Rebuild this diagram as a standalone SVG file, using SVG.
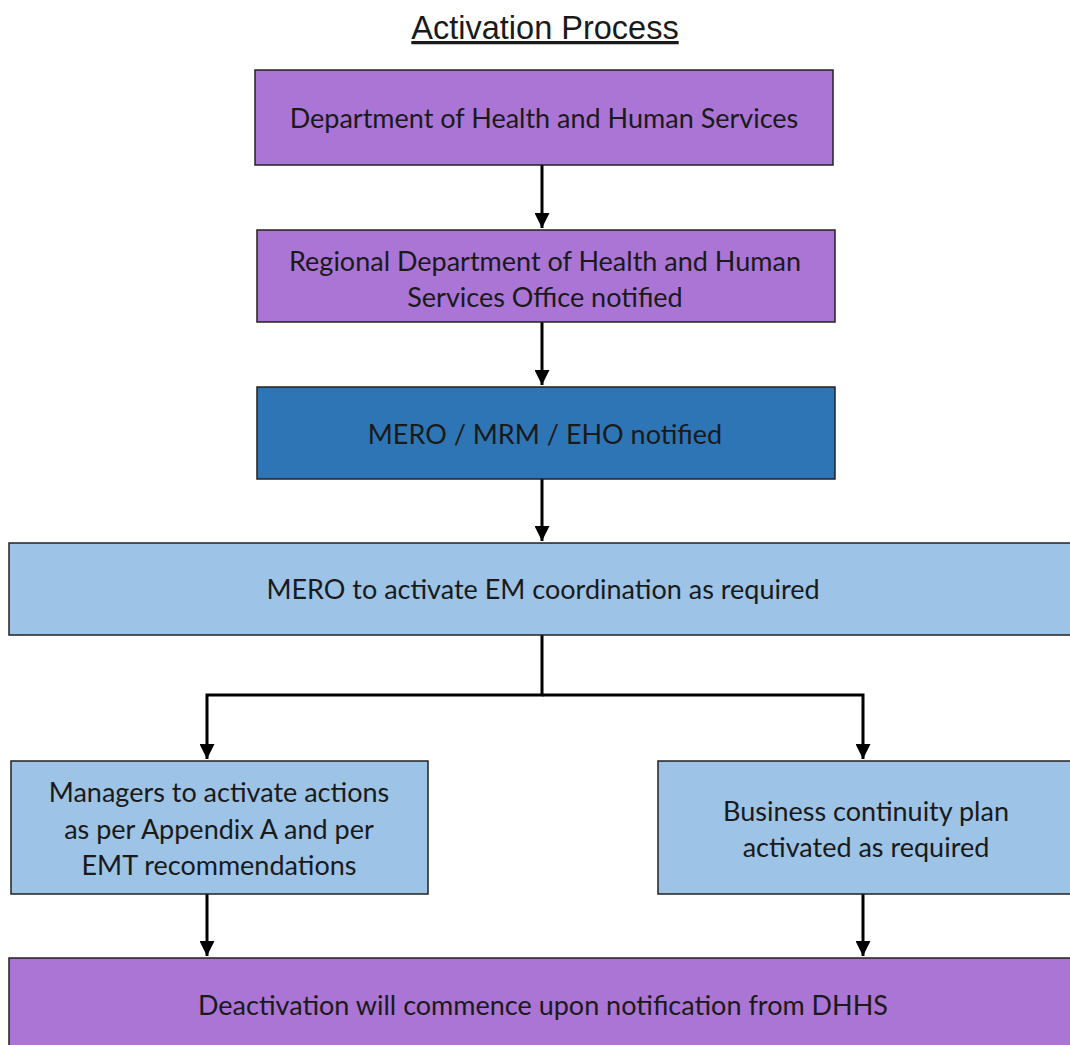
<svg xmlns="http://www.w3.org/2000/svg" width="1070" height="1045" viewBox="0 0 1070 1045">
<style>
.box{stroke:#222;stroke-width:1.5}
.purple{fill:#AA75D4}
.dblue{fill:#2E75B6}
.lblue{fill:#9DC3E6}
.t{font-family:Lato,"Noto Sans",sans-serif;font-size:27px;fill:#1a1a1a;text-anchor:middle;dominant-baseline:central}
.title{font-family:"Liberation Sans",Arial,sans-serif;font-size:32.5px;fill:#1a1a1a;text-anchor:middle;text-decoration:underline}
.c{stroke:#000;stroke-width:3;fill:none}
</style>
<defs>
<marker id="ah" viewBox="0 0 10 10" refX="10" refY="5" markerWidth="5" markerHeight="5" orient="auto" markerUnits="strokeWidth">
<path d="M0,0 L10,5 L0,10 z" fill="#000"/>
</marker>
</defs>
<rect width="1070" height="1045" fill="#fff"/>
<text class="title" x="545" y="39">Activation Process</text>
<g id="connectors">
<path class="c" d="M542,165 V228" marker-end="url(#ah)"/>
<path class="c" d="M542,322 V385" marker-end="url(#ah)"/>
<path class="c" d="M542,479 V541" marker-end="url(#ah)"/>
<path class="c" d="M542,635 V695 H207 V759" marker-end="url(#ah)"/>
<path class="c" d="M542,695 H863 V759" marker-end="url(#ah)"/>
<path class="c" d="M207,894 V956" marker-end="url(#ah)"/>
<path class="c" d="M863,894 V956" marker-end="url(#ah)"/>
</g>
<g id="n1">
<rect class="box purple" x="255" y="70" width="578" height="95"/>
<text class="t" x="544" y="117">Department of Health and Human Services</text>
</g>
<g id="n2">
<rect class="box purple" x="257" y="230" width="578" height="92"/>
<text class="t" x="545" y="260">Regional Department of Health and Human</text>
<text class="t" x="545" y="296">Services Office notified</text>
</g>
<g id="n3">
<rect class="box dblue" x="257" y="387" width="578" height="92"/>
<text class="t" x="545" y="433">MERO / MRM / EHO notified</text>
</g>
<g id="n4">
<rect class="box lblue" x="9" y="543" width="1070" height="92"/>
<text class="t" x="543" y="588">MERO to activate EM coordination as required</text>
</g>
<g id="n5">
<rect class="box lblue" x="11" y="761" width="417" height="133"/>
<text class="t" x="219" y="791">Managers to activate actions</text>
<text class="t" x="219" y="828">as per Appendix A and per</text>
<text class="t" x="219" y="864">EMT recommendations</text>
</g>
<g id="n6">
<rect class="box lblue" x="658" y="761" width="420" height="133"/>
<text class="t" x="866" y="810">Business continuity plan</text>
<text class="t" x="866" y="846">activated as required</text>
</g>
<g id="n7">
<rect class="box purple" x="9" y="958" width="1070" height="95"/>
<text class="t" x="543" y="1004">Deactivation will commence upon notification from DHHS</text>
</g>
</svg>
